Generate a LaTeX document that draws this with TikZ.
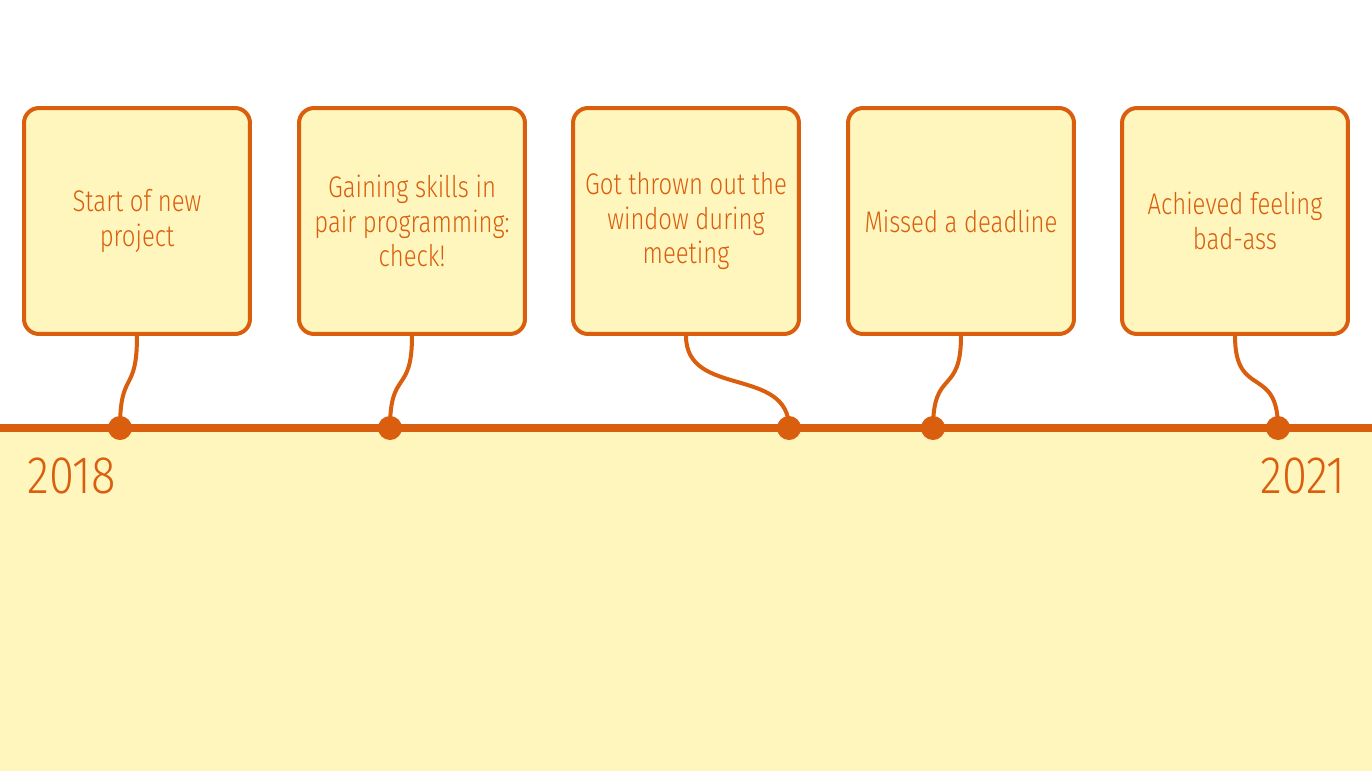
\documentclass[tikz,border=0pt]{standalone}
\usepackage{fontspec}
\setmainfont{Fira Sans}[UprightFont=* Light, FakeStretch=0.8]
\newfontfamily\yearfont{Fira Sans}[UprightFont=* Light, FakeStretch=0.86]
\definecolor{rust}{RGB}{217,94,14}
\definecolor{cream}{RGB}{255,246,190}
\begin{document}
\begin{tikzpicture}
    [x=0.02cm,y=-0.02cm,
     event/.style={rectangle,rounded corners=0.3cm,draw=rust,line width=0.08cm,fill=cream,
       minimum width=4.52cm,minimum height=4.52cm,align=center,text=rust,
       font=\fontsize{17}{19.6}\selectfont},
     dot/.style={circle,fill=rust,inner sep=0pt,minimum size=0.48cm},
     stem/.style={draw=rust,line width=0.08cm,looseness=1.6},
     year/.style={text=rust,inner sep=0pt,font=\yearfont\fontsize{30}{30}\selectfont}]
    \useasboundingbox (0,0) rectangle (1372,771);
    \fill [cream] (0,428) rectangle (1372,771);
    \coordinate (left) at (0,428);
    \coordinate (right) at (1372,428);
    \draw [rust,line width=0.16cm] (left) -- (right);
    \node (box1) at (137,221) [event] {Start of new\\project};
    \node (box2) at (412,221) [event] {Gaining skills in\\pair programming:\\check!};
    \node (box3) at (686,221) [event] {Got thrown out the\\window during\\meeting};
    \node (box4) at (961,221) [event] {Missed a deadline};
    \node (box5) at (1235,221) [event] {Achieved feeling\\bad-ass};
    \draw [stem] (box1) to [out=-90,in=90] (120,428);
    \draw [stem] (box2) to [out=-90,in=90] (390,428);
    \draw [stem,looseness=1.15] (box3) to [out=-90,in=90] (789,428);
    \draw [stem] (box4) to [out=-90,in=90] (933,428);
    \draw [stem] (box5) to [out=-90,in=90] (1278,428);
    \node (d1) at (120,428) [dot] {};
    \node (d2) at (390,428) [dot] {};
    \node (d3) at (789,428) [dot] {};
    \node (d4) at (933,428) [dot] {};
    \node (d5) at (1278,428) [dot] {};
    \node (start) at (27,493) [year,anchor=base west] {2018};
    \node (end) at (1346,493) [year,anchor=base east] {2021};
\end{tikzpicture}
\end{document}
